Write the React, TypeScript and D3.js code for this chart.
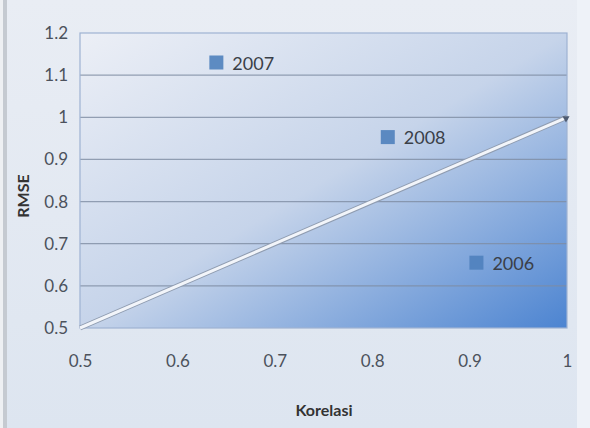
import { useEffect, useRef } from 'react'
import * as d3 from 'd3'

const W = 590, H = 428
const M = { top: 33, right: 23, bottom: 100, left: 80 }

const years = ['2007', '2008', '2006']
const korelasi = [0.64, 0.816, 0.907]
const rmse = [1.13, 0.953, 0.655]
const refLine: [number, number][] = [[0.5, 0.5], [1, 1]]
const xTicks = [0.5, 0.6, 0.7, 0.8, 0.9, 1]
const yTicks = [0.5, 0.6, 0.7, 0.8, 0.9, 1, 1.1, 1.2]

const FONT = 'Lato, "Open Sans", sans-serif'

export default function App() {
  const svgRef = useRef<SVGSVGElement>(null)

  useEffect(() => {
    const svg = d3.select(svgRef.current!)
    svg.selectAll('*').remove()

    const iw = W - M.left - M.right
    const ih = H - M.top - M.bottom

    const x = d3.scaleLinear().domain([0.5, 1]).range([0, iw])
    const y = d3.scaleLinear().domain([0.5, 1.2]).range([ih, 0])

    const defs = svg.append('defs')
    const grad = defs.append('linearGradient').attr('id', 'plotBg')
      .attr('x1', '0%').attr('y1', '0%').attr('x2', '100%').attr('y2', '100%')
    grad.append('stop').attr('offset', '0%').attr('stop-color', '#eceff6')
    grad.append('stop').attr('offset', '50%').attr('stop-color', '#c6d4ea')
    grad.append('stop').attr('offset', '100%').attr('stop-color', '#4c84d1')

    const bg = defs.append('linearGradient').attr('id', 'outerBg')
      .attr('x1', '0%').attr('y1', '0%').attr('x2', '0%').attr('y2', '100%')
    bg.append('stop').attr('offset', '0%').attr('stop-color', '#e9edf4')
    bg.append('stop').attr('offset', '100%').attr('stop-color', '#dde5f0')

    // outer chart area
    svg.append('rect').attr('width', W).attr('height', H).attr('fill', 'url(#outerBg)')
    svg.append('rect').attr('x', 0).attr('y', 0).attr('width', 3).attr('height', H).attr('fill', '#eef0f3')
    svg.append('rect').attr('x', 3).attr('y', 0).attr('width', 4).attr('height', H).attr('fill', '#c5cad1')
    svg.append('rect').attr('x', 577).attr('y', 0).attr('width', 13).attr('height', H).attr('fill', '#eef2f8')

    const g = svg.append('g').attr('transform', `translate(${M.left},${M.top})`)

    g.append('rect').attr('width', iw).attr('height', ih).attr('fill', 'url(#plotBg)')

    // gridlines
    g.append('g').selectAll('line').data(yTicks.slice(1, -1)).join('line')
      .attr('x1', 0).attr('x2', iw)
      .attr('y1', d => y(d)).attr('y2', d => y(d))
      .attr('stroke', '#7f8da3').attr('stroke-width', 1.2).attr('opacity', 0.8)

    g.append('rect').attr('width', iw).attr('height', ih).attr('fill', 'none')
      .attr('stroke', '#9eb2d2').attr('stroke-width', 1.2)

    // y axis labels
    g.append('g').call(d3.axisLeft(y).tickValues(yTicks).tickSize(0).tickPadding(12).tickFormat(d => `${+d}`))
      .call(s => s.select('.domain').remove())
      .call(s => s.selectAll('.tick text').attr('font-size', 17).attr('font-family', FONT).attr('fill', '#4c525c'))

    // x axis labels
    g.append('g').attr('transform', `translate(0,${ih})`)
      .call(d3.axisBottom(x).tickValues(xTicks).tickSize(0).tickPadding(27).tickFormat(d => `${+d}`))
      .call(s => s.select('.domain').remove())
      .call(s => s.selectAll('.tick text').attr('font-size', 17).attr('font-family', FONT).attr('fill', '#4c525c'))

    // reference line
    const line = d3.line<[number, number]>().x(d => x(d[0])).y(d => y(d[1]))
    g.append('path').datum(refLine).attr('d', line)
      .attr('fill', 'none').attr('stroke', '#8f9cb0').attr('stroke-width', 5)
    g.append('path').datum(refLine).attr('d', line)
      .attr('fill', 'none').attr('stroke', '#f2f5fa').attr('stroke-width', 3)
    const end = refLine[1]
    g.append('path')
      .attr('d', d3.symbol(d3.symbolTriangle, 22)())
      .attr('transform', `translate(${x(end[0]) - 1},${y(end[1]) + 1}) rotate(60)`)
      .attr('fill', '#4d5b72')

    // points
    const pts = years.map((yr, i) => ({ yr, kx: korelasi[i], ry: rmse[i] }))
    const pg = g.append('g')
    pg.selectAll('rect').data(pts).join('rect')
      .attr('x', d => x(d.kx) - 7).attr('y', d => y(d.ry) - 7)
      .attr('width', 14).attr('height', 14)
      .attr('fill', '#4f81bd').attr('opacity', 0.9)
    pg.selectAll('text').data(pts).join('text')
      .attr('x', d => x(d.kx) + 16).attr('y', d => y(d.ry))
      .attr('dominant-baseline', 'central')
      .attr('font-size', 18).attr('font-family', FONT).attr('fill', '#3a3f48')
      .text(d => d.yr)

    // axis titles
    svg.append('text').attr('x', 324).attr('y', 416).attr('text-anchor', 'middle')
      .attr('font-size', 16).attr('font-weight', 'bold').attr('font-family', FONT).attr('fill', '#333')
      .text('Korelasi')
    svg.append('text').attr('transform', 'translate(29,196) rotate(-90)').attr('text-anchor', 'middle')
      .attr('font-size', 16).attr('font-weight', 'bold').attr('font-family', FONT).attr('fill', '#333')
      .text('RMSE')
  }, [])

  return <svg ref={svgRef} width={W} height={H} style={{ position: 'absolute', left: 0, top: 0 }} />
}
